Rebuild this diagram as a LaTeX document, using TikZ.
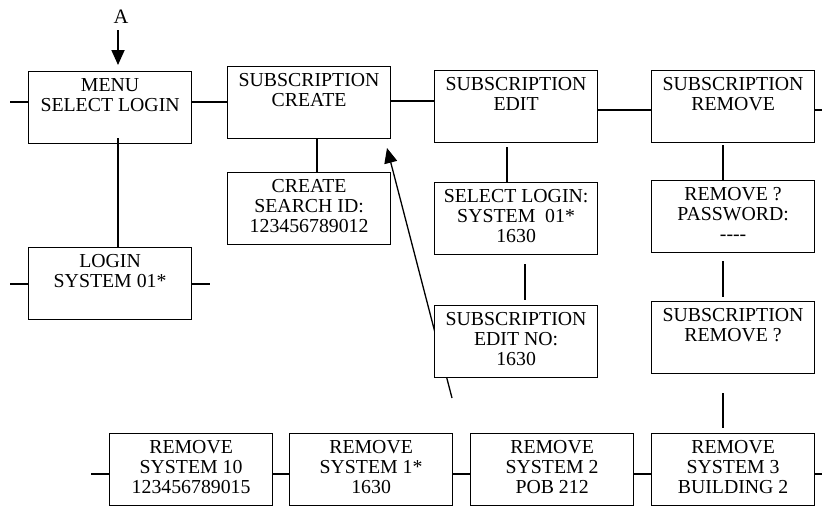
\documentclass[tikz,border=0pt]{standalone}
\usepackage{fontspec}
\setmainfont{Liberation Serif}
\usetikzlibrary{arrows.meta}
\begin{document}
\begin{tikzpicture}[x=1pt,y=-1pt,
  box/.style={draw, line width=1.2pt, fill=white, minimum width=163pt, minimum height=72pt,
    inner sep=0pt, align=center, anchor=north west, font=\fontsize{19.8pt}{20.3pt}\selectfont},
  conn/.style={line width=1.8pt},
  arr/.style={line width=1.8pt, -{Triangle[length=15pt,width=13pt]}},
  lbl/.style={font=\fontsize{20.5pt}{21pt}\selectfont, inner sep=0pt}]
\useasboundingbox (0,0) rectangle (822,506);

% diagonal arrow (behind the boxes)
\coordinate (d1) at (452,398);
\coordinate (d2) at (387,148);
\draw[arr, line width=1.3pt] (d1) -- (d2);

% top row
\node[box] (menu)   at (28,71)  {\strut MENU\\SELECT LOGIN\\\strut};
\node[box] (create) at (227,66) {\strut SUBSCRIPTION\\CREATE\\\strut};
\node[box] (edit)   at (434,70) {\strut SUBSCRIPTION\\EDIT\\\strut};
\node[box] (remove) at (651,70) {\strut SUBSCRIPTION\\REMOVE\\\strut};

% second row
\node[box] (login)       at (28,247)  {\strut LOGIN\\SYSTEM 01*\\\strut};
\node[box] (searchid)    at (227,172) {\strut CREATE\\SEARCH ID:\\123456789012\strut};
\node[box] (selectlogin) at (434,182) {\strut SELECT LOGIN:\\SYSTEM~~01*\\1630\strut};
\node[box] (password)    at (651,180) {\strut REMOVE ?\\PASSWORD:\\-{}-{}-{}-\strut};

% third row
\node[box] (editno)    at (434,305) {\strut SUBSCRIPTION\\EDIT NO:\\1630\strut};
\node[box] (subremove) at (651,301) {\strut SUBSCRIPTION\\REMOVE ?\\\strut};

% bottom row
\node[box] (sys10) at (109,433) {\strut REMOVE\\SYSTEM 10\\123456789015\strut};
\node[box] (sys1)  at (289,433) {\strut REMOVE\\SYSTEM 1*\\1630\strut};
\node[box] (sys2)  at (470,433) {\strut REMOVE\\SYSTEM 2\\POB 212\strut};
\node[box] (sys3)  at (651,433) {\strut REMOVE\\SYSTEM 3\\BUILDING 2\strut};

% entry label A
\node[lbl] (A) at (121,16.5) {A};
\coordinate (a1) at (118,30);
\draw[arr, shorten >=6pt] (a1) -- (menu.north -| a1);

% horizontal connectors, top row
\draw[conn] (menu.west |- 0,102) -- ++(-18,0);
\draw[conn] (menu.east |- 0,102) -- (create.west |- 0,102);
\draw[conn] (create.east |- 0,101) -- (edit.west |- 0,101);
\draw[conn] (edit.east |- 0,110) -- (remove.west |- 0,110);
\draw[conn] (remove.east |- 0,110) -- ++(9,0);

% login
\draw[conn, shorten <=-6pt] (menu.south -| 118,0) -- (login.north -| 118,0);
\draw[conn] (login.west) -- ++(-18,0);
\draw[conn] (login.east) -- ++(18,0);

% vertical connectors
\draw[conn] (create.south -| 317,0) -- (searchid.north -| 317,0);
\draw[conn, shorten <=4pt] (edit.south -| 507,0) -- (selectlogin.north -| 507,0);
\draw[conn, shorten <=9pt, shorten >=5pt] (selectlogin.south -| 525,0) -- (editno.north -| 525,0);
\draw[conn, shorten <=2pt] (remove.south -| 723,0) -- (password.north -| 723,0);
\draw[conn, shorten <=8pt, shorten >=4pt] (password.south -| 723,0) -- (subremove.north -| 723,0);
\draw[conn, shorten <=19pt, shorten >=5pt] (subremove.south -| 723,0) -- (sys3.north -| 723,0);

% bottom row connectors
\draw[conn] (sys10.west |- 0,474) -- ++(-18,0);
\draw[conn] (sys10.east |- 0,474) -- (sys1.west |- 0,474);
\draw[conn] (sys1.east |- 0,474) -- (sys2.west |- 0,474);
\draw[conn] (sys2.east |- 0,474) -- (sys3.west |- 0,474);
\draw[conn] (sys3.east |- 0,474) -- ++(9,0);
\end{tikzpicture}
\end{document}
